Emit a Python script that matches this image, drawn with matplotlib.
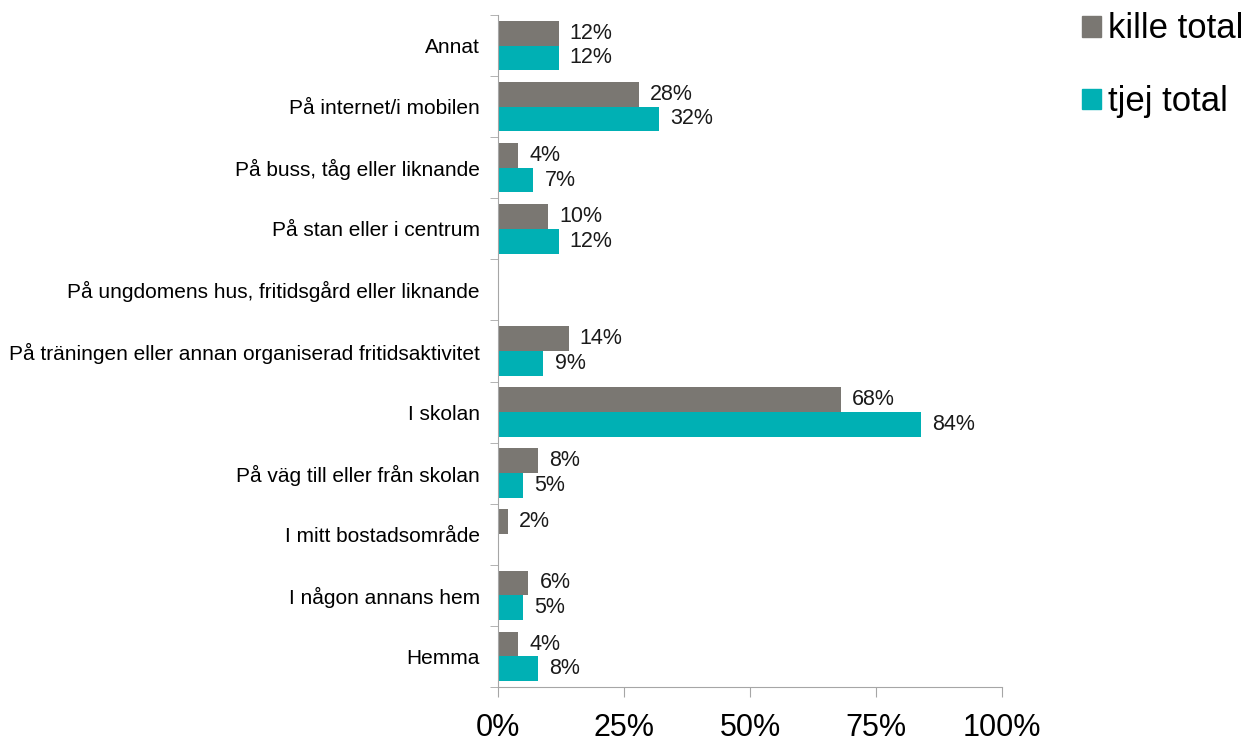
import numpy as np
import matplotlib.pyplot as plt
from matplotlib.patches import Patch

plt.rcParams['font.family'] = ['Liberation Sans', 'DejaVu Sans']

# Data (top to bottom as in the chart)
categories = ['Annat', 'På internet/i mobilen', 'På buss, tåg eller liknande',
              'På stan eller i centrum', 'På ungdomens hus, fritidsgård eller liknande',
              'På träningen eller annan organiserad fritidsaktivitet', 'I skolan',
              'På väg till eller från skolan', 'I mitt bostadsområde',
              'I någon annans hem', 'Hemma']
kille = [12, 28, 4, 10, None, 14, 68, 8, 2, 6, 4]
tjej = [12, 32, 7, 12, None, 9, 84, 5, None, 5, 8]
xticks = [0, 25, 50, 75, 100]

c_kille = '#7a7772'
c_tjej = '#00b0b4'
axis_col = '#a6a6a6'

fig = plt.figure(figsize=(12.52, 7.45), dpi=100)
ax = fig.add_axes([0.3978, 0.0779, 0.4025, 0.9020])

n = len(categories)
y = np.arange(n)[::-1].astype(float)
h = 0.405

def draw(vals, offset, color):
    for yi, v in zip(y, vals):
        if v is None:
            continue
        ax.barh(yi + offset, v, height=h, color=color, linewidth=0)
        ax.annotate(f'{v}%', (v, yi + offset), xytext=(8, 0), textcoords='offset points',
                    va='center', ha='left', fontsize=15.5, color='#1a1a1a')

draw(kille, h / 2, c_kille)
draw(tjej, -h / 2, c_tjej)

ax.set_xlim(0, 100)
ax.set_ylim(-0.5, n - 0.5)
ax.set_xticks(xticks)
ax.set_xticklabels([f'{t}%' for t in xticks], fontsize=22)
ax.set_yticks(y)
ax.set_yticklabels(categories, fontsize=15)
ax.set_yticks(np.arange(n + 1) - 0.5, minor=True)
ax.tick_params(axis='y', which='major', length=0, pad=13)
ax.tick_params(axis='y', which='minor', length=6, color=axis_col, direction='out')
ax.tick_params(axis='x', length=7, color=axis_col, pad=12, direction='out')

for s in ['top', 'right']:
    ax.spines[s].set_visible(False)
for s in ['left', 'bottom']:
    ax.spines[s].set_color(axis_col)

handles = [Patch(color=c_kille, label='kille total'), Patch(color=c_tjej, label='tjej total')]
fig.legend(handles=handles, loc='upper left', bbox_to_anchor=(0.845, 1.016), frameon=False,
           fontsize=25, handlelength=0.55, handleheight=0.55, handletextpad=0.2,
           labelspacing=1.15, borderaxespad=0.3)

fig.savefig('out.png', dpi=100)
